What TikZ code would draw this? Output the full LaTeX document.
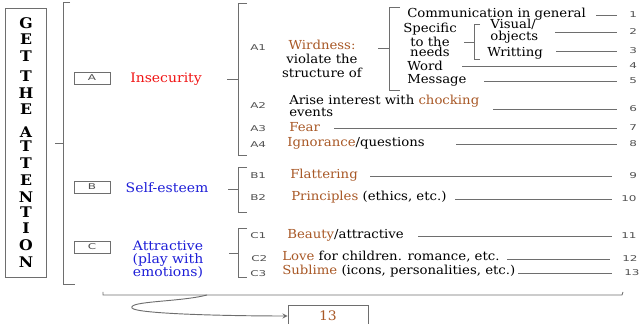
\documentclass[tikz,border=0pt]{standalone}
\usepackage{fontspec}
\setmainfont{DejaVu Serif}[FakeStretch=1.07]
\newfontfamily\tagfont[FakeStretch=1.5]{DejaVu Sans}
\definecolor{rust}{RGB}{168,88,38}
\definecolor{hotred}{RGB}{240,20,20}
\definecolor{inkblue}{RGB}{30,30,215}
\definecolor{rulegray}{RGB}{110,110,110}
\definecolor{taggray}{RGB}{80,80,80}
\tikzset{
  txt/.style={inner sep=0pt, font=\fontsize{9.3}{8}\selectfont},
  tag/.style={inner sep=0pt, anchor=west, text=taggray, font=\tagfont\fontsize{6}{6}\selectfont},
  brk/.style={draw=rulegray, line width=0.7pt},
  leader/.style={draw=rulegray, line width=0.55pt},
  letterbox/.style={draw=rulegray, minimum width=27pt, minimum height=9pt, inner sep=0pt, text=taggray, font=\tagfont\fontsize{6}{6}\selectfont},
  vert/.style={inner sep=0pt, font=\bfseries\fontsize{11}{12}\selectfont}
}
\begin{document}
\begin{tikzpicture}[x=0.75pt,y=-0.75pt]
\useasboundingbox (0,0) rectangle (644,324);

% the vertical title
\draw[draw=rulegray, line width=0.7pt] (5,8) rectangle (46,277);
\foreach \ch/\yy [count=\k] in {G/23,E/39,T/56,T/76,H/93,E/109,A/132,T/146,T/163,E/180,N/197,T/212,I/228,O/245,N/262}
  \node[vert] (v\k) at (26,\yy) {\ch};

% main bracket
\draw[brk] (70,2) -- (63,2) -- (63,284) -- (75,284);
\draw[brk] (55,143) -- (63,143);

% the three groups
\node[letterbox] (boxA) at (92,78) {A};
\node[letterbox] (boxB) at (92,187) {B};
\node[letterbox] (boxC) at (92,247) {C};
\node[txt, anchor=west, text=hotred, font=\fontsize{9.8}{9}\selectfont] (insec) at (130,79) {Insecurity};
\node[txt, text=inkblue, font=\fontsize{9.8}{9}\selectfont] (self) at (167,188) {Self-esteem};
\node[txt, text=inkblue, align=center, font=\fontsize{9.8}{9.75}\selectfont] (attr) at (168,260) {Attractive\\(play with\\emotions)};

% brackets of the groups
\draw[brk] (247,3) -- (238,3) -- (238,155) -- (247,155);
\draw[brk] (227,79) -- (238,79);
\draw[brk] (247,167) -- (238,167) -- (238,212) -- (247,212);
\draw[brk] (228,189) -- (238,189);
\draw[brk] (247,228) -- (238,228) -- (238,277) -- (247,277);
\draw[brk] (229,253) -- (238,253);

% item tags
\node[tag] (tA1) at (250,48) {A1};
\node[tag] (tA2) at (250,106) {A2};
\node[tag] (tA3) at (250,129) {A3};
\node[tag] (tA4) at (250,145) {A4};
\node[tag] (tB1) at (250,176) {B1};
\node[tag] (tB2) at (250,198) {B2};
\node[tag] (tC1) at (250,236) {C1};
\node[tag] (tC2) at (251,259) {C2};
\node[tag] (tC3) at (250,274) {C3};

% items
\node[txt, align=center, font=\fontsize{9.3}{10.5}\selectfont] (wird) at (322,59) {\textcolor{rust}{Wirdness:}\\violate the\\structure of};
\node[txt, anchor=west, align=left, font=\fontsize{9.3}{8.25}\selectfont] (arise) at (289,106) {Arise interest with \textcolor{rust}{chocking}\\events};
\node[txt, anchor=west, text=rust] (fear) at (289,127) {Fear};
\node[txt, anchor=west] (ignor) at (287,143) {\textcolor{rust}{Ignorance}/questions};
\node[txt, anchor=west, text=rust] (flat) at (290,175) {Flattering};
\node[txt, anchor=west] (princ) at (291,197) {\textcolor{rust}{Principles} (ethics, etc.)};
\node[txt, anchor=west] (beau) at (287,235) {\textcolor{rust}{Beauty}/attractive};
\node[txt, anchor=west] (love) at (282,257) {\textcolor{rust}{Love} for children. romance, etc.};
\node[txt, anchor=west] (subl) at (282,271) {\textcolor{rust}{Sublime} (icons, personalities, etc.)};

% sub bracket of A1
\draw[brk] (400,7) -- (389,7) -- (389,90) -- (400,90);
\draw[brk] (378,48) -- (389,48);
\node[txt, anchor=west] (comm) at (407,14) {Communication in general};
\node[txt, align=center, font=\fontsize{9.3}{7.9}\selectfont] (spec) at (430,40) {Specific\\to the\\needs};
\node[txt, anchor=west] (word) at (407,66) {Word};
\node[txt, anchor=west] (mess) at (407,80) {Message};
\draw[brk] (480,24) -- (474,24) -- (474,59) -- (480,59);
\draw[brk] (464,42) -- (474,42);
\node[txt, anchor=west, align=left, font=\fontsize{9.3}{6.9}\selectfont] (vis) at (490,31) {Visual/\\objects};
\node[txt, anchor=west] (writ) at (487,53) {Writting};

% leaders and numbers
\foreach \i/\sx/\ex/\yy/\nx in {1/596/617/15/629, 2/555/617/32/629, 3/556/617/51/629, 4/462/617/66/629, 5/484/617/81/629, 6/493/617/109/629, 7/334/617/128/629, 8/456/617/144/629, 9/370/612/176/629, 10/455/612/199/621, 11/418/612/236/621, 12/507/610/259/622, 13/518/612/273/624} {
  \node[tag] (n\i) at (\nx,\yy) {\i};
  \coordinate (s\i) at (\sx,\yy);
  \draw[leader] (s\i) -- (\ex,\yy);
}

% bottom brace and total
\draw[brk] (103,292) -- (103,295) -- (622,295) -- (623,292);
\coordinate (tip) at (207,295);
\node[draw=rulegray, line width=0.7pt, minimum width=60pt, minimum height=16pt, inner sep=0pt, text=rust, font=\fontsize{9.8}{10}\selectfont] (total) at (328,316) {13};
\draw[brk, -stealth] (tip) .. controls (180,302) and (128,301) .. (132,308) .. controls (136,314) and (230,316) .. (total.west);
\end{tikzpicture}
\end{document}
